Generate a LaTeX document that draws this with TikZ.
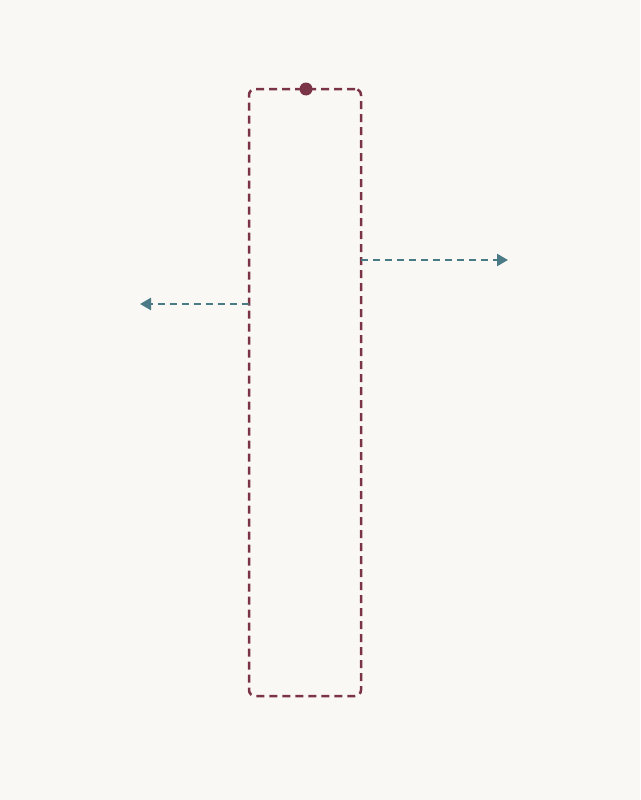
\documentclass[tikz,border=0pt]{standalone}
\usetikzlibrary{arrows.meta}
\definecolor{bgc}{HTML}{FAF8F4}
\definecolor{wine}{HTML}{7B3445}
\definecolor{tealc}{HTML}{4A7A85}
\begin{document}
\begin{tikzpicture}[x=1pt,y=-1pt,
  boxstyle/.style={draw=wine,line width=2.5pt,dash pattern=on 8pt off 5pt,rounded corners=6pt,minimum width=112pt,minimum height=607pt,inner sep=0pt},
  dotstyle/.style={circle,fill=wine,minimum size=13pt,inner sep=0pt},
  flow/.style={draw=tealc,line width=2.5pt,dash pattern=on 7pt off 5pt,-{Triangle[length=11pt,width=12pt,fill=tealc]}}]
\fill[bgc] (0,0) rectangle (640,800);
\useasboundingbox (0,0) rectangle (640,800);
\node[boxstyle] (box) at (305,392.5) {};
\node[dotstyle] (dot) at (306,89) {};
\coordinate (rs) at (361,260);
\coordinate (re) at (508,260);
\coordinate (ls) at (249,304);
\coordinate (le) at (140,304);
\draw[flow] (rs) -- (re);
\draw[flow] (ls) -- (le);
\end{tikzpicture}
\end{document}
